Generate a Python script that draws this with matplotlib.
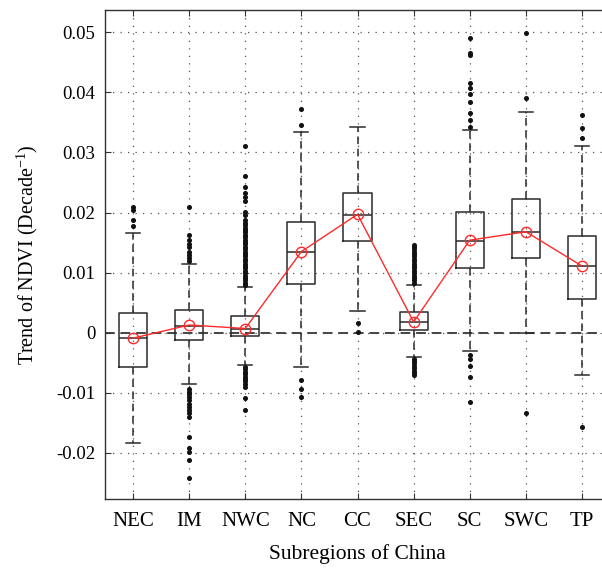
import matplotlib
matplotlib.use("Agg")
import matplotlib.pyplot as plt

regions = ["NEC", "IM", "NWC", "NC", "CC", "SEC", "SC", "SWC", "TP"]
q1 = [-0.00576, -0.00121, -0.0005, 0.0081, 0.01531, 0.00045, 0.01071, 0.01243, 0.00566]
median = [-0.00088, 0.00117, 0.00062, 0.01343, 0.01963, 0.00173, 0.01531, 0.0168, 0.0111]
q3 = [0.00333, 0.00378, 0.00283, 0.01847, 0.0232, 0.00344, 0.02003, 0.02225, 0.01614]
whisker_low = [-0.0183, -0.00859, -0.00532, -0.00566, 0.00366, -0.004, -0.003, 0.0, -0.00704]
whisker_high = [0.01664, 0.01148, 0.00766, 0.03334, 0.03428, 0.00794, 0.03373, 0.03677, 0.031]
means = [-0.0009, 0.00128, 0.0007, 0.0135, 0.0197, 0.0018, 0.0154, 0.0168, 0.0111]

outliers = {
    "NEC": [0.0178, 0.0188, 0.0205, 0.0210],
    "IM": [0.0210, 0.0163, 0.0155, 0.0148, 0.0142, 0.0135, 0.0130, 0.0125, 0.0120,
           -0.0093, -0.0098, -0.0102, -0.0107, -0.0112, -0.0118, -0.0123, -0.0129,
           -0.0134, -0.0140, -0.0173, -0.0192, -0.0198, -0.0211, -0.0241],
    "NWC": [0.0311, 0.0261, 0.0242, 0.0233, 0.0225, 0.0219, 0.0201, 0.0196,
            0.0187, 0.0183, 0.0179, 0.0175, 0.0171, 0.0167, 0.0163, 0.0159, 0.0155,
            0.0151, 0.0147, 0.0143, 0.0139, 0.0135, 0.0131, 0.0127, 0.0123, 0.0119,
            0.0115, 0.0111, 0.0107, 0.0103, 0.0099, 0.0095, 0.0091, 0.0087, 0.0083, 0.0079,
            -0.0057, -0.0061, -0.0065, -0.0069, -0.0073, -0.0077, -0.0081, -0.0085,
            -0.0090, -0.0108, -0.0128],
    "NC": [0.0346, 0.0372, -0.0079, -0.0094, -0.0107],
    "CC": [0.00166, 0.00017],
    "SEC": [0.0083, 0.0087, 0.0091, 0.0095, 0.0099, 0.0103, 0.0107, 0.0111, 0.0115,
            0.0119, 0.0123, 0.0127, 0.0131, 0.0135, 0.0139, 0.0143, 0.0146,
            -0.0043, -0.0047, -0.0051, -0.0055, -0.0059, -0.0063, -0.0067, -0.0070],
    "SC": [0.0343, 0.0354, 0.0365, 0.0384, 0.0397, 0.0408, 0.0415, 0.0462, 0.0465, 0.0490,
           -0.0037, -0.0043, -0.0055, -0.0074, -0.0116],
    "SWC": [0.0390, 0.0499, -0.0134],
    "TP": [0.0324, 0.0340, 0.0362, -0.0157],
}

yticks = [-0.02, -0.01, 0, 0.01, 0.02, 0.03, 0.04, 0.05]
ytick_labels = ["-0.02", "-0.01", "0", "0.01", "0.02", "0.03", "0.04", "0.05"]

plt.rcParams["font.family"] = ["Liberation Serif", "DejaVu Serif"]
plt.rcParams["mathtext.fontset"] = "custom"
plt.rcParams["mathtext.rm"] = "Liberation Serif"

fig = plt.figure(figsize=(6.02, 5.72), dpi=100)
ax = fig.add_axes([105 / 602, 73 / 572, 505 / 602, 489 / 572])

positions = list(range(1, len(regions) + 1))

# grid
grid_kw = dict(color="#555555", linewidth=0.9, linestyle=(0, (1, 5)), zorder=0)
for p in positions:
    ax.axvline(p, **grid_kw)
for t in yticks:
    ax.axhline(t, **grid_kw)
ax.axhline(0, color="#444444", linewidth=1.4, linestyle=(0, (5, 3)), zorder=1)

stats = []
for i, r in enumerate(regions):
    stats.append(dict(med=median[i], q1=q1[i], q3=q3[i],
                      whislo=whisker_low[i], whishi=whisker_high[i],
                      fliers=outliers[r], label=r))

ax.bxp(stats, positions=positions, widths=0.5, showfliers=True,
       boxprops=dict(color="#2a2a2a", linewidth=1.1),
       medianprops=dict(color="#2a2a2a", linewidth=1.1),
       whiskerprops=dict(color="#2a2a2a", linewidth=1.1, linestyle=(0, (5, 3))),
       capprops=dict(color="#2a2a2a", linewidth=1.1),
       capwidths=0.25,
       flierprops=dict(marker="o", markersize=2.6, markerfacecolor="#111111",
                       markeredgecolor="#111111", linestyle="none"),
       zorder=3)

ax.plot(positions, means, color="#ff2a2a", linewidth=1.0, marker="o",
        markersize=7.5, markerfacecolor="none", markeredgecolor="#ff2a2a",
        markeredgewidth=1.0, zorder=4)

ax.set_xlim(0.5, 9.5)
ax.set_ylim(-0.02767, 0.0537)
ax.set_xticks(positions)
ax.set_xticklabels(regions, fontsize=15)
ax.set_yticks(yticks)
ax.set_yticklabels(ytick_labels, fontsize=13.5)
ax.tick_params(direction="in", top=True, right=False, length=4, color="#333333")
ax.tick_params(axis="x", pad=9)
ax.tick_params(axis="y", pad=7)
for s in ["left", "bottom", "top"]:
    ax.spines[s].set_color("#333333")
    ax.spines[s].set_linewidth(1.0)
ax.spines["right"].set_visible(False)

ax.set_xlabel("Subregions of China", fontsize=15.5, labelpad=10)
ax.set_ylabel(r"Trend of NDVI (Decade$^{\mathregular{-1}}$)", fontsize=14.5, labelpad=11.5)

fig.savefig("out.png", dpi=100)
